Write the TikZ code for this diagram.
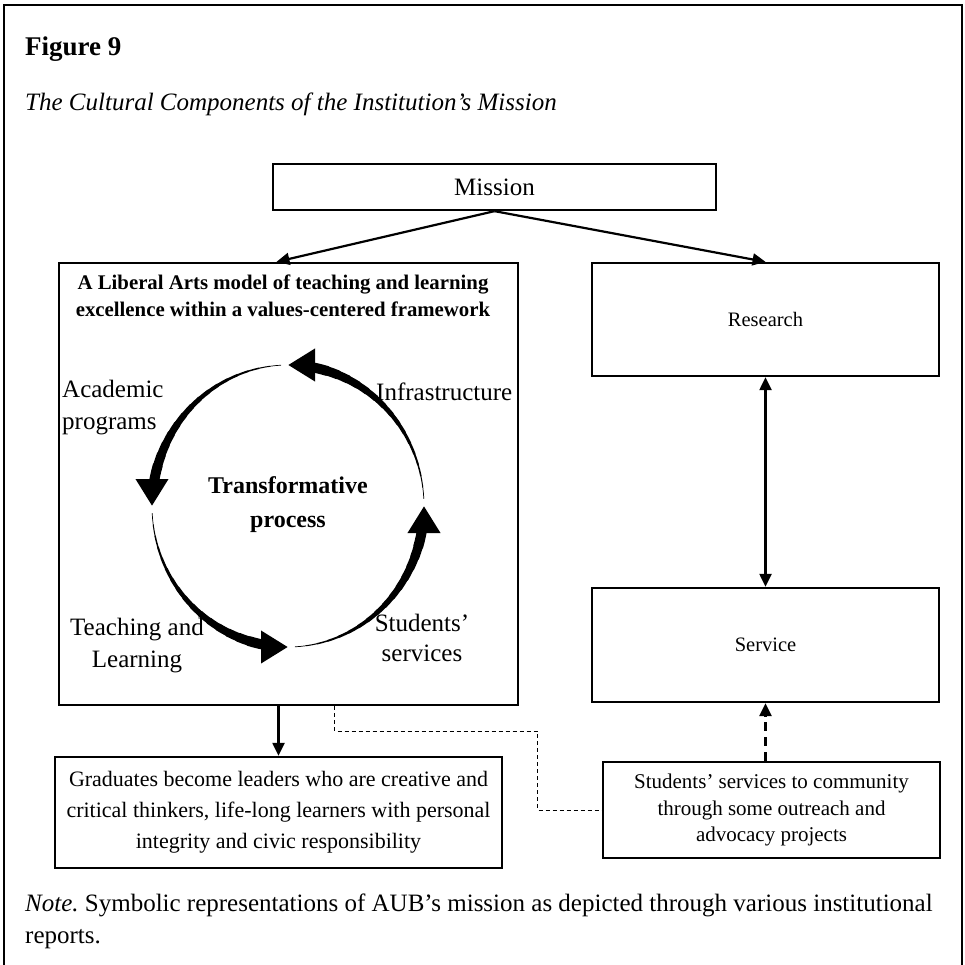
\documentclass[tikz,border=0pt]{standalone}
\usepackage{fontspec}
\setmainfont{Liberation Serif}
\frenchspacing
\usetikzlibrary{arrows.meta, positioning, calc}
\tikzset{
    >={Triangle[length=13pt, width=12pt]},
    box/.style={rectangle, draw=black, line width=2.3pt, inner sep=0pt, align=center},
    line/.style={draw, ->, line width=2.2pt},
    dashline/.style={draw, dash pattern=on 4pt off 3pt, line width=1pt},
    ringtext/.style={inner sep=0pt, font=\fontsize{25}{32}\selectfont},
    ringpiece/.style={line width=#1, line cap=round}
}

\begin{document}
\begin{tikzpicture}[x=1pt, y=-1pt]
        \useasboundingbox (0,0) rectangle (965,965);

        % frame and captions
        \draw[line width=1.6pt] (4,965) -- (4,5) -- (962,5) -- (962,965);
        \node[anchor=base west, inner sep=0pt, font=\fontsize{27}{30}\selectfont\bfseries] (fig) at (25,56) {Figure 9};
        \node[anchor=base west, inner sep=0pt, font=\fontsize{25}{30}\selectfont\itshape] (caption) at (25,111) {The Cultural Components of the Institution's Mission};
        \node[anchor=west, align=left, inner sep=0pt, font=\fontsize{25}{32}\selectfont] (note) at (25,921) {\textit{Note.} Symbolic representations of AUB's mission as depicted through various institutional\\reports.};

        % boxes
        \node[box, minimum width=443pt, minimum height=46pt, font=\fontsize{25}{30}\selectfont] (mission) at (494.5,187) {Mission};
        \node[box, minimum width=459pt, minimum height=442pt] (lam) at (288.5,484) {};
        \node[inner sep=0pt, align=center, font=\fontsize{20.8}{27}\selectfont\bfseries] (lamtitle) at (283,296) {A Liberal Arts model of teaching and learning\\excellence within a values-centered framework};
        \node[box, minimum width=347pt, minimum height=113pt, font=\fontsize{20.5}{25}\selectfont] (research) at (765.5,319.5) {Research};
        \node[box, minimum width=347pt, minimum height=114pt, font=\fontsize{20.5}{25}\selectfont] (service) at (765.5,645) {Service};
        \node[box, minimum width=447pt, minimum height=111pt, font=\fontsize{22}{31}\selectfont] (grad) at (278.5,812.5) {Graduates become leaders who are creative and\\critical thinkers, life-long learners with personal\\integrity and civic responsibility};
        \node[box, minimum width=337pt, minimum height=96pt, font=\fontsize{21}{26.5}\selectfont] (outreach) at (771.5,810) {Students' services to community\\through some outreach and\\advocacy projects};

        % transformative cycle
        \coordinate (hub) at (288,506);
        \foreach \k in {0,...,3}{
            \foreach \i in {0,...,15}{
                \pgfmathsetmacro{\sa}{90*\k+3+\i*4.6875}
                \pgfmathsetmacro{\ea}{\sa+4.6875}
                \pgfmathsetmacro{\w}{0.7+9.3*pow(\i/15,1.25)}
                \draw[ringpiece=\w pt] ([shift={(\sa:136pt and 141pt)}]hub) arc[start angle=\sa, end angle=\ea, x radius=136pt, y radius=141pt];
            }
            \pgfmathsetmacro{\sa}{90*\k+78}
            \pgfmathsetmacro{\ea}{90*\k+90}
            \draw[line width=10pt, -{Triangle[length=27pt, width=31pt]}] ([shift={(\sa:136pt and 141pt)}]hub) arc[start angle=\sa, end angle=\ea, x radius=136pt, y radius=141pt];
        }
        \node[inner sep=0pt, align=center, font=\fontsize{24}{34}\selectfont\bfseries] (core) at (288,505) {Transformative\\process};
        \node[ringtext, anchor=west, align=left] (acad) at (62,408) {Academic\\programs};
        \node[ringtext, anchor=west] (infra) at (376,392) {Infrastructure};
        \node[ringtext, align=center] (teach) at (137,646) {Teaching and\\Learning};
        \node[ringtext, align=center, font=\fontsize{25}{30}\selectfont] (stud) at (422,638) {Students'\\services};

        % Draws
        \draw[line] (mission.south) -- ([xshift=-12pt]lam.north);
        \draw[line] (mission.south) -- (research.north);
        \draw[line, <->] (research) -- (service);
        \draw[line] (grad.north |- lam.south) -- (grad.north);
        \draw[line, dash pattern=on 9pt off 6pt, line width=2.6pt] (outreach.north -| service.south) -- (service.south);
        \draw[dashline] ([xshift=46pt]lam.south) -- ++(0,25) -- ++(203,0) |- (outreach.west);

    \end{tikzpicture}
\end{document}
